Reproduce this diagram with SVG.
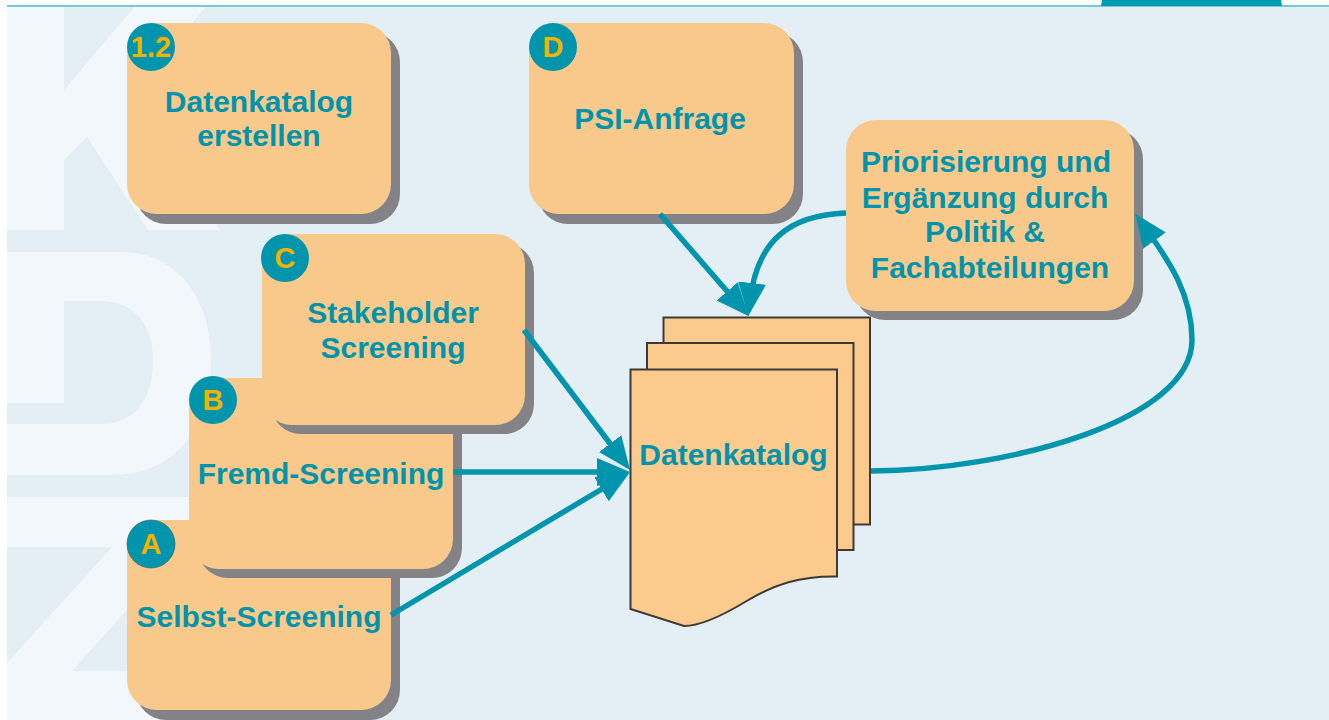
<svg xmlns="http://www.w3.org/2000/svg" width="1329" height="720" viewBox="0 0 1329 720">
<style>
.box{fill:#f9c98b}
.shadow{fill:#838387}
.label{font-family:"Liberation Sans",Arial,sans-serif;font-weight:700;font-size:30px;fill:#0094ac;text-anchor:middle}
.badge{fill:#0095ad}
.badgetext{font-family:"Liberation Sans",Arial,sans-serif;font-weight:700;font-size:29px;fill:#f2b200;text-anchor:middle}
.page{fill:#fbca8c;stroke:#3d3a35;stroke-width:2}
.conn{fill:none;stroke:#0095ad;stroke-width:5.500;marker-end:url(#arrow)}
.wm{fill:#f1f7fa}
</style>
<defs>
<marker id="arrow" markerUnits="userSpaceOnUse" markerWidth="34" markerHeight="30" refX="18" refY="14.500" orient="auto">
<path d="M0 0.500L33 14.500L0 28.500Z" fill="#0095ad"/>
</marker>
</defs>
<rect width="1329" height="720" fill="#ffffff"/>
<rect x="7" y="6" width="1322" height="714" fill="#e3eff5"/>
<g id="watermark">
<path class="wm" d="M7 6H64V90L135 6H207L150 70L158 135L220 230H148L87 137L64 160V230H7Z"/>
<path class="wm" d="M7 252H120C175 252 211 295 211 360C211 430 175 475 110 475H7V424H100C135 424 153 400 153 360C153 325 135 301 100 301H64V403H7Z"/>
<path class="wm" d="M7 497H190V540L72 671H190V720H7V663L112 547H7Z"/>
</g>
<rect x="7" y="5" width="1322" height="2" fill="#74cbd8"/>
<path d="M1102 0H1281L1282 6H1101Z" fill="#009ab3"/>
<g id="node-1-2">
<rect class="shadow" x="136" y="32" width="264" height="192" rx="30"/>
<rect class="box" x="127" y="23" width="264" height="191" rx="30"/>
<circle class="badge" cx="151" cy="47" r="24"/>
<text class="badgetext" x="151" y="57">1.2</text>
<text class="label" x="259" y="112">Datenkatalog</text>
<text class="label" x="259" y="146">erstellen</text>
</g>
<g id="node-a">
<rect class="shadow" x="136" y="529" width="264" height="191" rx="30"/>
<rect class="box" x="127" y="520" width="264" height="190" rx="30"/>
<circle class="badge" cx="151" cy="544" r="24" stroke="#2f5a60" stroke-width="0.600"/>
<text class="badgetext" x="151" y="554">A</text>
<text class="label" x="259" y="627">Selbst-Screening</text>
</g>
<g id="node-b">
<rect class="shadow" x="198" y="387" width="264" height="191" rx="30"/>
<rect class="box" x="189" y="378" width="264" height="191" rx="30"/>
<circle class="badge" cx="213" cy="400" r="24"/>
<text class="badgetext" x="213" y="410">B</text>
<text class="label" x="321" y="484">Fremd-Screening</text>
</g>
<g id="node-c">
<rect class="shadow" x="271" y="243" width="263" height="191" rx="30"/>
<rect class="box" x="262" y="234" width="263" height="191" rx="30"/>
<circle class="badge" cx="285" cy="258" r="24"/>
<text class="badgetext" x="285" y="268">C</text>
<text class="label" x="393" y="323">Stakeholder</text>
<text class="label" x="393" y="358">Screening</text>
</g>
<g id="node-d">
<rect class="shadow" x="538" y="32" width="265" height="192" rx="30"/>
<rect class="box" x="529" y="23" width="265" height="191" rx="30"/>
<circle class="badge" cx="553" cy="47" r="24"/>
<text class="badgetext" x="553" y="57">D</text>
<text class="label" x="660" y="129">PSI-Anfrage</text>
</g>
<g id="node-prio">
<rect class="shadow" x="855" y="129" width="288" height="191" rx="30"/>
<rect class="box" x="846" y="120" width="288" height="191" rx="30"/>
<text class="label" x="986" y="172">Priorisierung und</text>
<text class="label" x="985" y="208">Ergänzung durch</text>
<text class="label" x="985" y="242">Politik &amp;</text>
<text class="label" x="990" y="278">Fachabteilungen</text>
</g>
<g id="node-datenkatalog">
<rect class="page" x="663.500" y="317.500" width="206.500" height="207"/>
<rect class="page" x="647" y="343" width="206.500" height="207"/>
<path class="page" d="M630.500 369.500H837V576.500C800 576 775 584 745 602C720 617 700 626 684 626L630.500 609Z"/>
<text class="label" x="733.500" y="465">Datenkatalog</text>
</g>
<g id="connectors">
<path class="conn" d="M524 330L621 458"/>
<path class="conn" d="M453 472H615"/>
<path class="conn" d="M391 615L617 480"/>
<path class="conn" d="M660 214L739 305"/>
<path class="conn" d="M846 213C790 215 757 240 750 301"/>
<path class="conn" d="M871 471C1010 470 1192 420 1192 340C1192 295 1170 262 1144 226"/>
</g>
</svg>
